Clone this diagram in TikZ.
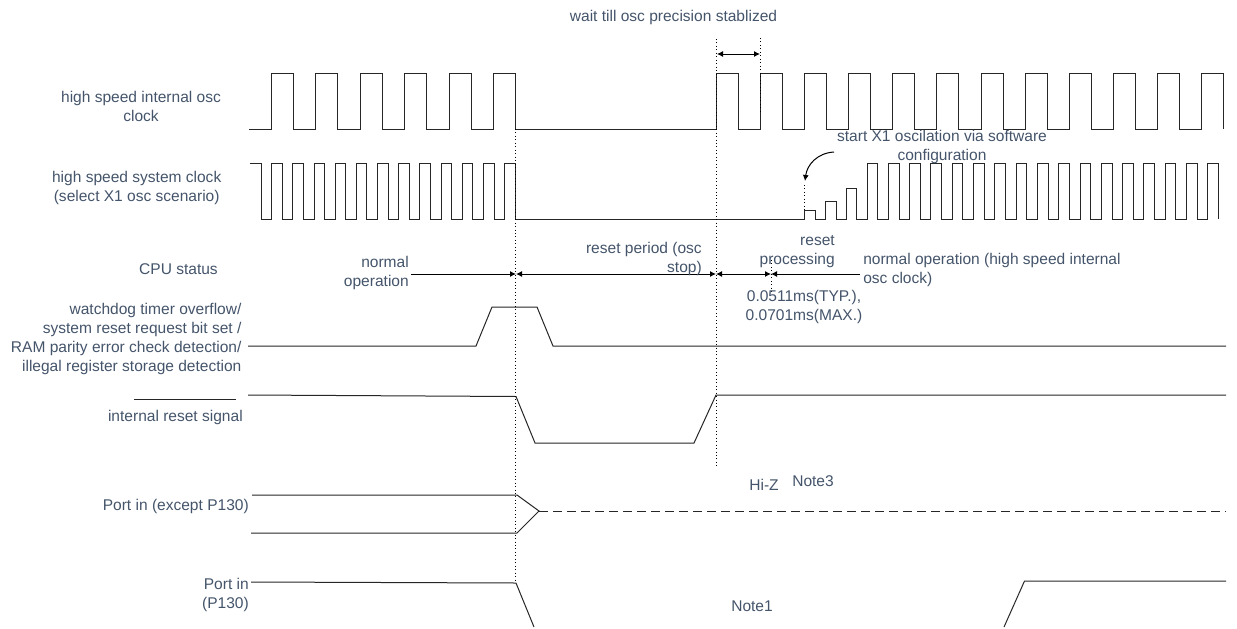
\documentclass[tikz,border=0pt]{standalone}
\usepackage{fontspec}
\setmainfont{Liberation Sans}
\usetikzlibrary{arrows.meta}
\definecolor{txt}{HTML}{44546A}
\tikzset{
  lbl/.style={text=txt,font=\fontsize{11.65}{14.25}\selectfont,inner sep=0pt,align=center},
  sig/.style={line width=0.75pt,black!85,line join=miter},
  guide/.style={line width=0.6pt,black,dotted},
  span/.style={line width=0.75pt,black,{Latex[length=4.5pt,width=4.5pt]}-{Latex[length=4.5pt,width=4.5pt]}},
  spanr/.style={line width=0.75pt,black,-{Latex[length=4.5pt,width=4.5pt]}},
}
\begin{document}
\begin{tikzpicture}[x=0.75pt,y=-0.75pt]
\useasboundingbox (0,0) rectangle (1237,628);
% clock 1
\draw[sig] (249,129) \foreach \k in {0,...,5} { -- ({271+44.5*\k},129) -- ({271+44.5*\k},73) -- ({293.3+44.5*\k},73) -- ({293.3+44.5*\k},129) } -- (716,129)
 \foreach \k in {0,...,11} { -- ({716+44.17*\k},129) -- ({716+44.17*\k},73) -- ({738+44.17*\k},73) -- ({738+44.17*\k},129) };
% clock 2
\draw[sig] (250,163) -- (261,163) -- (261,219) \foreach \k in {0,...,11} { -- ({271.7+21.17*\k},219) -- ({271.7+21.17*\k},163) -- ({282.3+21.17*\k},163) -- ({282.3+21.17*\k},219) } -- (804,219)
 -- (804,210) -- (815,210) -- (815,219) -- (825,219) -- (825,201) -- (836,201) -- (836,219) -- (846,219) -- (846,188) -- (856,188) -- (856,219)
 \foreach \k in {0,...,16} { -- ({867+21.3*\k},219) -- ({867+21.3*\k},163) -- ({877.7+21.3*\k},163) -- ({877.7+21.3*\k},219) };
% watchdog
\draw[sig] (248,346) -- (476,346) -- (492,307) -- (537,307) -- (553,346) -- (1226,346);
% reset
\draw[sig] (134,399.5) -- (236,399.5);
\draw[sig] (248,395) -- (516,396.5) -- (535,443) -- (694,443) -- (716,395) -- (1226,395);
% ports
\draw[sig] (252,495) -- (517,495) -- (539,511) -- (517,533) -- (251,533);
\draw[sig,dash pattern=on 6.5pt off 4pt] (539,511) -- (1226,511);
\draw[sig] (251,582) -- (516,583) -- (534,627);
\draw[sig] (1004,627) -- (1024.5,581) -- (1226,581);
% guides
\coordinate (g1a) at (515.5,129); \coordinate (g1b) at (515.5,583);
\coordinate (g2a) at (716,39); \coordinate (g2b) at (716,467);
\coordinate (g3a) at (760,38); \coordinate (g3b) at (760,112);
\coordinate (g4a) at (804,185); \coordinate (g4b) at (804,210);
\coordinate (g5a) at (771,260); \coordinate (g5b) at (771,292);
\draw[guide] (g1a) -- (g1b);
\draw[guide] (g2a) -- (g2b);
\draw[guide] (g3a) -- (g3b);
\draw[guide] (g4a) -- (g4b);
\draw[guide] (g5a) -- (g5b);
% spans
\draw[span] (717,54) -- (760,54);
\coordinate (s0) at (411,274); \coordinate (s1) at (516,274); \coordinate (s2) at (716,274); \coordinate (s3) at (771,274); \coordinate (s4) at (860,274);
\draw[spanr] (s0) -- (s1);
\draw[span] (s1) -- (s2);
\draw[span] (s2) -- (s3);
\draw[spanr] (s4) -- (s3);
\coordinate (c0) at (834,152); \coordinate (c1) at (805,181);
\draw[spanr] (c0) .. controls (817,153) and (807,165) .. (c1);
% labels
\begin{scope}[every node/.append style={lbl}]
\node (a) at (141,106) {high speed internal osc\\clock};
\node (b) at (136.7,187.5) {high speed system clock\\(select X1 osc scenario)};
\node (c) at (178.5,269) {CPU status};
\node[align=right,anchor=east] (d) at (241.7,338.5) {watchdog timer overflow/\\system reset request bit set /\\RAM parity error check detection/\\illegal register storage detection};
\node[anchor=east] (e) at (243,417) {internal reset signal};
\node[anchor=east] (f) at (249,506) {Port in (except P130)};
\node[align=right,anchor=east] (g) at (249,595) {Port in\\(P130)};
\node (h) at (673.5,17) {wait till osc precision stablized};
\node (i) at (942,146.5) {start X1 oscilation via software\\configuration};
\node[align=right,anchor=east] (j) at (409,272.5) {normal\\operation};
\node[align=right,anchor=east] (k) at (702,258.5) {reset period (osc\\stop)};
\node[align=right,anchor=east] (l) at (835,252) {reset\\processing};
\node[align=left,anchor=west] (m) at (863,269.5) {normal operation (high speed internal\\osc clock)};
\node (n) at (804,306.5) {0.0511ms(TYP.),\\0.0701ms(MAX.)};
\node (o) at (764,485) {Hi-Z};
\node (p) at (813,481) {Note3};
\node (q) at (752,606) {Note1};
\end{scope}
\end{tikzpicture}
\end{document}
